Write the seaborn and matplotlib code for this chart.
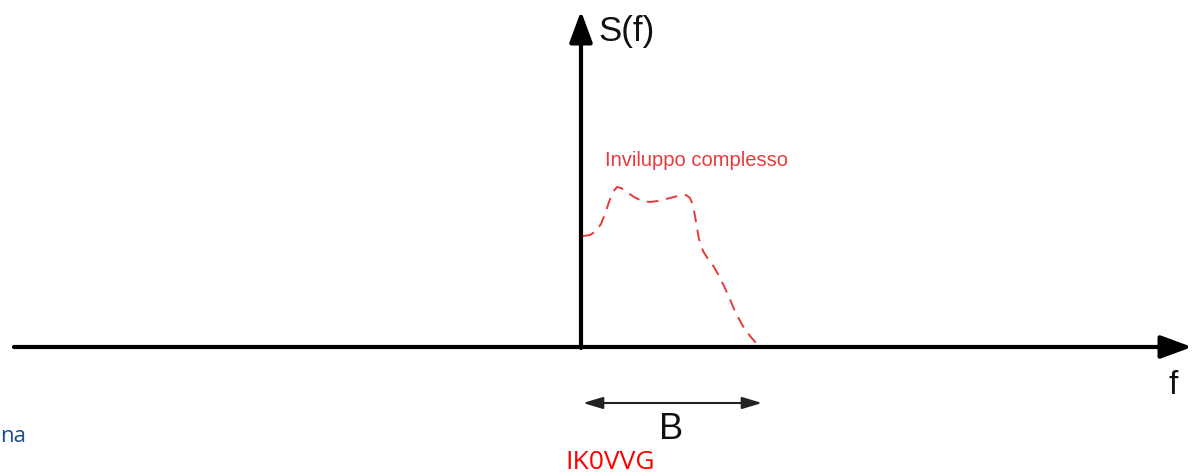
import seaborn as sb
import matplotlib.pyplot as plt
import pandas as pd

# envelope curve (pixel coords, y grows downward)
freq = [583, 590, 596, 601, 605, 609, 613, 617, 621, 627, 634, 642, 650, 658,
        666, 674, 681, 686, 690, 693, 695, 697, 699, 703, 708, 714, 719, 724,
        729, 734, 739, 744, 750, 756, 761]
amp = [237, 236, 232, 225, 215, 203, 193, 188, 189, 193, 198, 202, 203, 202,
       200, 198, 196, 196, 199, 206, 217, 229, 240, 252, 260, 268, 277, 287,
       298, 310, 320, 329, 337, 344, 348]

labels = {"y": "S(f)", "x": "f", "band": "B", "curve": "Inviluppo complesso"}
watermark = "IK0VVG"

dataset = pd.DataFrame({"f": freq, "S": amp})

sb.set_style("white")
fig = plt.figure(figsize=(11.92, 4.77), dpi=100)
ax = fig.add_axes([0, 0, 1, 1])
ax.set_xlim(0, 1192)
ax.set_ylim(477, 0)
ax.axis("off")

# axes with arrows
big_head = dict(arrowstyle="-|>,head_length=0.95,head_width=0.35", lw=3,
                color="black", shrinkA=0, shrinkB=0, mutation_scale=20)
ax.annotate("", xy=(1192, 348), xytext=(14, 348), arrowprops=big_head,
            annotation_clip=False)
ax.annotate("", xy=(581, 12), xytext=(581, 349), arrowprops=big_head,
            annotation_clip=False)

sb.lineplot(data=dataset, x="f", y="S", ax=ax, color="#e8393d", lw=1.4,
            linestyle=(0, (6, 4)), sort=False, estimator=None)

# bandwidth arrow
ax.annotate("", xy=(762, 404), xytext=(583, 404),
            arrowprops=dict(arrowstyle="<|-|>,head_length=1.2,head_width=0.36",
                            lw=1.5, color="#222222", shrinkA=0, shrinkB=0))

diag_font = ["Liberation Sans", "DejaVu Sans"]
ax.text(598, 31, labels["y"], fontsize=25, family=diag_font, va="center", ha="left",
        color="#111111")
ax.text(1173, 386, labels["x"], fontsize=24, family=diag_font, va="center",
        ha="center", color="#111111")
ax.text(671, 430, labels["band"], fontsize=26, family=diag_font, va="center",
        ha="center", color="#111111")
ax.text(605, 161, labels["curve"], fontsize=14.5, family=diag_font, va="center",
        ha="left", color="#e8393d")
ax.text(610, 463, watermark, fontsize=19, family=["Open Sans", "DejaVu Sans"],
        va="center", ha="center", color="red")

ax.text(0, 437, "na", fontsize=16, family=["Open Sans", "DejaVu Sans"],
        va="center", ha="left", color="#1f4e8c")

plt.savefig("out.png", dpi=100)
